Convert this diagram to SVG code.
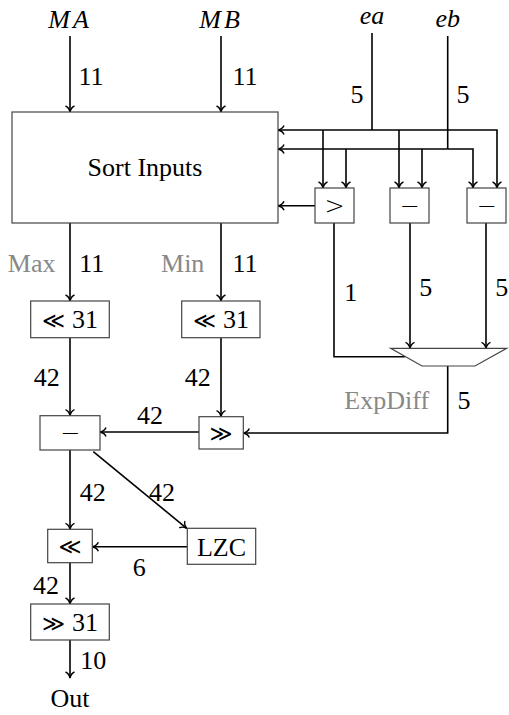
<svg xmlns="http://www.w3.org/2000/svg" width="509" height="715" viewBox="0 0 509 715" font-family="'Liberation Serif', 'Times New Roman', 'DejaVu Serif', serif">
<style>
text{font-family:'Liberation Serif','Times New Roman','DejaVu Serif',serif;font-size:26px;fill:#000;text-anchor:middle}
.m{font-style:italic}
.g{fill:#888}
.sym{font-family:'DejaVu Sans','DejaVu Serif',sans-serif;font-weight:200;font-size:24px}
.ll{font-family:'DejaVu Sans',sans-serif;font-weight:normal;font-size:22px}
.num{font-family:'Liberation Serif','Times New Roman',serif;font-weight:normal;font-size:26px}
.box{fill:#fff;stroke:#444;stroke-width:1.2}
.c{fill:none;stroke:#000;stroke-width:1.6}
.ca{fill:none;stroke:#000;stroke-width:1.6;marker-end:url(#a)}
</style>
<defs>
<marker id="a" markerUnits="userSpaceOnUse" markerWidth="10" markerHeight="12" viewBox="-8 -6 10 12" refX="0" refY="0" orient="auto" overflow="visible">
<path d="M-6,-4.5 C-5,-1.8 -2,-0.5 0,0 C-2,0.5 -5,1.8 -6,4.5" fill="none" stroke="#000" stroke-width="1.4"/>
</marker>
</defs>
<rect width="509" height="715" fill="#fff"/>
<g id="connectors">
<path class="ca" d="M70,36 V112"/>
<path class="ca" d="M221,36 V112"/>
<path class="c" d="M372,33 V130"/>
<path class="c" d="M447.7,36 V149"/>
<path class="ca" d="M372,130 H278"/>
<path class="ca" d="M372,130 H497 V188"/>
<path class="ca" d="M323,130 V188"/>
<path class="ca" d="M399,130 V188"/>
<path class="ca" d="M447.7,149 H278"/>
<path class="ca" d="M447.7,149 H473 V188"/>
<path class="ca" d="M346,149 V188"/>
<path class="ca" d="M422,149 V188"/>
<path class="ca" d="M315,205.7 H278"/>
<path class="c" d="M334,223 V356.7 H405"/>
<path class="ca" d="M410,223 V348.3"/>
<path class="ca" d="M486,223 V348.3"/>
<path class="ca" d="M447.7,366 V433 H243.3"/>
<path class="ca" d="M70,223 V301"/>
<path class="ca" d="M221,223 V301"/>
<path class="ca" d="M70,337.7 V415.7"/>
<path class="ca" d="M221,337.7 V416.7"/>
<path class="ca" d="M199,432 H100"/>
<path class="ca" d="M70,450 V529.3"/>
<path class="ca" d="M93.3,451.7 L186.7,528.3"/>
<path class="ca" d="M187.3,546.7 H92.3"/>
<path class="ca" d="M70,562.7 V604"/>
<path class="ca" d="M70,640 V678"/>
</g>
<g id="labels">
<text class="m" x="70" y="28" letter-spacing="3">MA</text>
<text class="m" x="221" y="28" letter-spacing="3">MB</text>
<text class="m" x="372" y="23.5">ea</text>
<text class="m" x="447.7" y="26.5">eb</text>
<text x="91" y="85">11</text>
<text x="245" y="85">11</text>
<text x="357" y="103">5</text>
<text x="463" y="103">5</text>
<text class="g" x="31.7" y="272">Max</text>
<text x="91.7" y="272">11</text>
<text class="g" x="182.7" y="272">Min</text>
<text x="245" y="272">11</text>
<text x="46.7" y="385.5">42</text>
<text x="197.7" y="385.5">42</text>
<text x="350.7" y="301">1</text>
<text x="425.7" y="296">5</text>
<text x="501.7" y="296">5</text>
<text class="g" x="386.7" y="409">ExpDiff</text>
<text x="464" y="409">5</text>
<text x="150" y="424">42</text>
<text x="92.7" y="500.5">42</text>
<text x="162" y="500.5">42</text>
<text x="139.3" y="575.5">6</text>
<text x="46" y="594">42</text>
<text x="93.3" y="669">10</text>
<text x="70" y="707">Out</text>
</g>
<g id="sort">
<rect class="box" x="12" y="112" width="266" height="111"/>
<text x="145" y="176">Sort Inputs</text>
</g>
<g id="cmp">
<rect class="box" x="315" y="188" width="39" height="35"/>
<text class="sym" x="334.5" y="214">&gt;</text>
</g>
<g id="sub1">
<rect class="box" x="390" y="188" width="39" height="35"/>
<text class="sym" x="409.5" y="214">−</text>
</g>
<g id="sub2">
<rect class="box" x="467" y="188" width="39" height="35"/>
<text class="sym" x="486.5" y="214">−</text>
</g>
<g id="mux">
<polygon points="390.7,348.3 506.7,348.3 475,366 422,366" fill="#fff" stroke="#444" stroke-width="1.2"/>
</g>
<g id="shlMax">
<rect class="box" x="30.7" y="301" width="78.6" height="36.7"/>
<text class="ll" x="70" y="328">≪ <tspan class="num">31</tspan></text>
</g>
<g id="shlMin">
<rect class="box" x="181.7" y="301" width="78.3" height="36.7"/>
<text class="ll" x="221" y="328">≪ <tspan class="num">31</tspan></text>
</g>
<g id="sub">
<rect class="box" x="40" y="415.7" width="60" height="34.3"/>
<text class="sym" x="70" y="441">−</text>
</g>
<g id="shr">
<rect class="box" x="199" y="416.7" width="44.3" height="32.3"/>
<text class="ll" x="221" y="441">≫</text>
</g>
<g id="norm">
<rect class="box" x="47.7" y="529.3" width="44.6" height="33.4"/>
<text class="ll" x="70" y="554">≪</text>
</g>
<g id="lzc">
<rect class="box" x="187.3" y="528.3" width="68.4" height="36"/>
<text x="221.5" y="555.5">LZC</text>
</g>
<g id="shrOut">
<rect class="box" x="30.7" y="604" width="78.6" height="36"/>
<text class="ll" x="70" y="631">≫ <tspan class="num">31</tspan></text>
</g>
</svg>
